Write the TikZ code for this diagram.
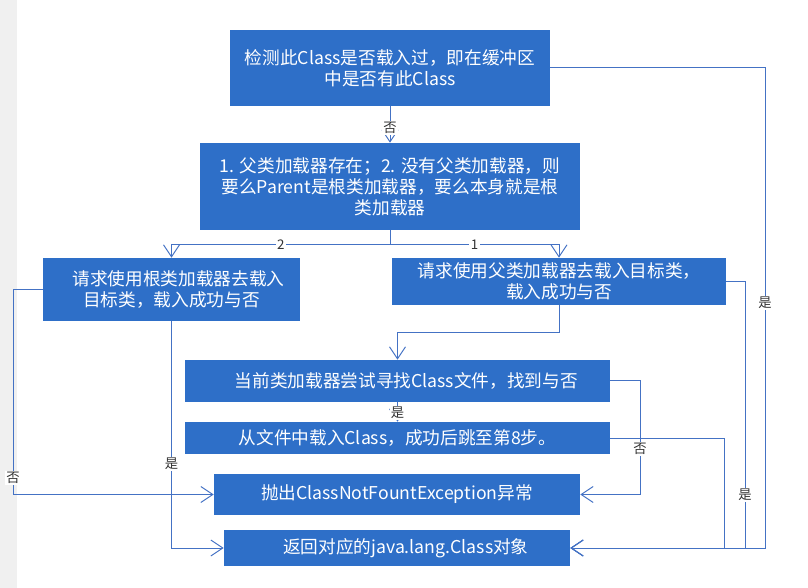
\documentclass[tikz,border=0pt]{standalone}
\usepackage{fontspec}
\setmainfont{Noto Sans CJK SC}
\newfontfamily\cjk{Noto Sans CJK SC}
\usetikzlibrary{arrows.meta}
\definecolor{boxblue}{HTML}{2E6FC8}
\definecolor{lineblue}{HTML}{4472C4}
\definecolor{labelgray}{HTML}{333333}
\definecolor{stripgray}{HTML}{F0F0F0}
\tikzset{
  flowbox/.style={draw=none, fill=boxblue, text=white, align=center, inner sep=0pt,
    font=\cjk\fontsize{13.25}{15.75}\selectfont},
  conn/.style={draw=lineblue, line width=0.75pt},
  arr/.style={conn, -{Straight Barb[length=9pt,width=12pt]}},
  lbl/.style={fill=white, text=labelgray, inner sep=1pt, font=\cjk\fontsize{10}{12}\selectfont}
}
\begin{document}
\begin{tikzpicture}[x=0.75pt, y=-0.75pt]
\useasboundingbox (0,0) rectangle (808,588);
\fill[stripgray] (0,0) rectangle (17,588);

\node[flowbox, minimum width=240pt, minimum height=57pt] (b1) at (390,68)
  {检测此Class是否载入过，即在缓冲区\\中是否有此Class};
\node[flowbox, minimum width=285pt, minimum height=65.25pt] (b2) at (390,186.5)
  {1. 父类加载器存在；2. 没有父类加载器，则\\要么Parent是根类加载器，要么本身就是根\\类加载器};
\node[flowbox, minimum width=192.75pt, minimum height=47.25pt] (b3) at (171.5,289.5)
  {\hspace*{0.8em}请求使用根类加载器去载入\\目标类，载入成功与否};
\node[flowbox, minimum width=250.5pt, minimum height=35.25pt] (b4) at (559,281.5)
  {请求使用父类加载器去载入目标类，\\载入成功与否};
\node[flowbox, minimum width=318.75pt, minimum height=31.5pt] (b5) at (397.5,381)
  {\hspace*{1em}当前类加载器尝试寻找Class文件，找到与否};
\node[flowbox, minimum width=318.75pt, minimum height=24pt] (b6) at (397.5,438)
  {从文件中载入Class，成功后跳至第8步。};
\node[flowbox, minimum width=274.5pt, minimum height=30.75pt] (b7) at (397,494.5)
  {抛出ClassNotFountException异常};
\node[flowbox, minimum width=259.5pt, minimum height=27pt] (b8) at (397,548)
  {\hspace*{1em}返回对应的java.lang.Class对象};

% rails
\coordinate (split) at (390,245);
\coordinate (mid) at (0,333);
\coordinate (rA) at (765,0);
\coordinate (rB) at (745,0);
\coordinate (rC) at (724,0);
\coordinate (rD) at (640,0);
\coordinate (rL) at (13,0);

% box1 -> box2
\draw[arr] (b1.south) -- (b2.north) node[lbl, pos=0.6] {否};
% box2 -> box3 / box4
\draw[conn] (b2.south) -- (split);
\draw[arr] (split) -- (split -| b3.north) node[lbl, pos=0.5] {2} -- (b3.north);
\draw[arr] (split) -- (split -| b4.north) node[lbl, pos=0.5] {1} -- (b4.north);
% box4 -> box5
\draw[arr] (b4.south) -- (b4.south |- mid) -- (mid -| b5.north) -- (b5.north);
% box5 -> box6
\draw[arr] (b5.south) -- (b6.north) node[lbl, pos=0.55] {是};
% box5 -> box7 (no)
\draw[arr] (b5.east) -- (b5.east -| rD) -- (b7.east -| rD) node[lbl, pos=0.6] {否} -- (b7.east);
% box6 -> box8
\draw[arr] (b6.east) -- (b6.east -| rC) -- (b8.east -| rC) -- (b8.east);
% box4 -> box8 (yes)
\draw[arr] (b4.east) -- (b4.east -| rB) -- (b8.east -| rB) node[lbl, pos=0.8] {是} -- (b8.east);
% box1 -> box8 (yes)
\draw[arr] (b1.east) -- (b1.east -| rA) -- (b8.east -| rA) node[lbl, pos=0.489] {是} -- (b8.east);
% box3 -> box7 (no)
\draw[arr] (b3.west) -- (b3.west -| rL) -- (b7.west -| rL) node[lbl, pos=0.92] {否} -- (b7.west);
% box3 -> box8 (yes)
\draw[arr] (b3.south) -- (b8.west -| b3.south) node[lbl, pos=0.63] {是} -- (b8.west);
\end{tikzpicture}
\end{document}
